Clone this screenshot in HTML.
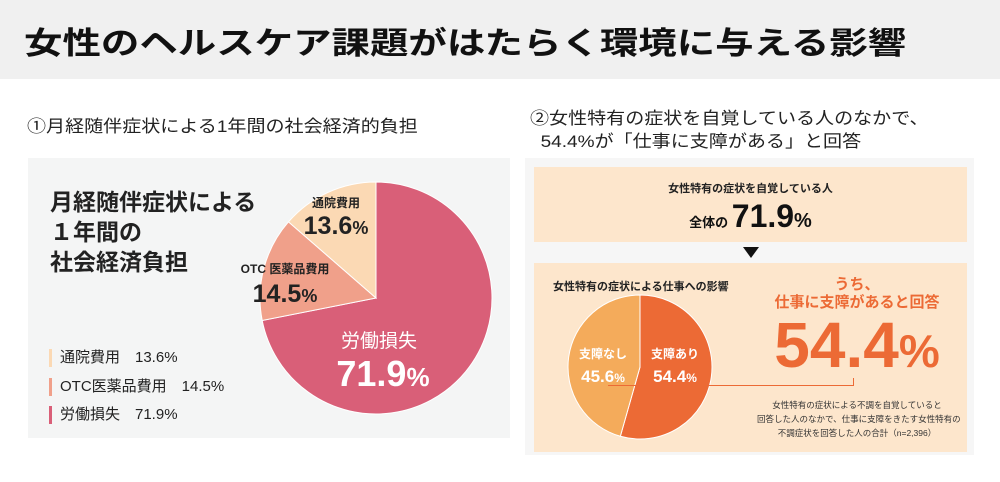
<!DOCTYPE html>
<html><head><meta charset="utf-8">
<style>
body{margin:0;width:1000px;height:482px;background:#fff;overflow:hidden;font-family:"Liberation Sans","Noto Sans CJK JP",sans-serif;position:relative}
.a{position:absolute;white-space:nowrap}
</style></head>
<body>
<div class="a" style="left:0;top:0;width:1000px;height:79px;background:#f0f0f0"></div>
<div class="a" style="left:24px;top:26px;font-size:31px;font-weight:bold;color:#111;transform:scaleX(1.24);transform-origin:left;line-height:36px">女性のヘルスケア課題がはたらく環境に与える影響</div>
<div class="a" style="left:27px;top:117px;font-size:17px;color:#222;transform:scaleX(1.12);transform-origin:left;line-height:20px">①月経随伴症状による1年間の社会経済的負担</div>
<div class="a" style="left:530px;top:107px;font-size:17px;color:#222;transform:scaleX(1.12);transform-origin:left;line-height:23px">②女性特有の症状を自覚している人のなかで、<br>&nbsp;&nbsp;54.4%が「仕事に支障がある」と回答</div>

<div class="a" style="left:28px;top:158px;width:482px;height:280px;background:#f4f5f5"></div>
<div class="a" style="left:50px;top:187px;font-size:23px;font-weight:bold;color:#222;line-height:30px">月経随伴症状による<br>１年間の<br>社会経済負担</div>

<svg class="a" style="left:0;top:0" width="1000" height="482">
<g id="pie1"></g><g id="pie2"></g>
</svg>

<div class="a" style="left:296px;top:194px;width:80px;text-align:center;font-size:12px;font-weight:bold;color:#222">通院費用</div>
<div class="a" style="left:286px;top:212px;width:100px;text-align:center;font-size:25px;font-weight:bold;color:#222">13.6<span style="font-size:18px">%</span></div>
<div class="a" style="left:225px;top:260px;width:120px;text-align:center;font-size:12px;font-weight:bold;color:#222">OTC 医薬品費用</div>
<div class="a" style="left:235px;top:280px;width:100px;text-align:center;font-size:25px;font-weight:bold;color:#222">14.5<span style="font-size:18px">%</span></div>
<div class="a" style="left:329px;top:326px;width:100px;text-align:center;font-size:19px;color:#fff">労働損失</div>
<div class="a" style="left:313px;top:353px;width:140px;text-align:center;font-size:36px;font-weight:bold;color:#fff">71.9<span style="font-size:26px">%</span></div>

<div class="a" style="left:49px;top:349px;height:18px;border-left:3px solid #fbd9b4;padding-left:8px;font-size:15px;color:#222;line-height:18px">通院費用　13.6%</div>
<div class="a" style="left:49px;top:378px;height:18px;border-left:3px solid #f0a08a;padding-left:8px;font-size:15px;color:#222;line-height:18px">OTC医薬品費用　14.5%</div>
<div class="a" style="left:49px;top:406px;height:18px;border-left:3px solid #d95f78;padding-left:8px;font-size:15px;color:#222;line-height:18px">労働損失　71.9%</div>

<div class="a" style="left:525px;top:158px;width:449px;height:297px;background:#f6f6f6;z-index:-1"></div>
<div class="a" style="left:534px;top:167px;width:433px;height:75px;background:#fde6cc;z-index:-1"></div>
<div class="a" style="left:534px;top:180px;width:433px;text-align:center;font-size:11px;font-weight:bold;color:#222">女性特有の症状を自覚している人</div>
<div class="a" style="left:534px;top:198px;width:433px;text-align:center;font-weight:bold;color:#111"><span style="font-size:13px">全体の </span><span style="font-size:32px">71.9</span><span style="font-size:20px">%</span></div>
<div class="a" style="left:743px;top:247px;width:0;height:0;border-left:8px solid transparent;border-right:8px solid transparent;border-top:11px solid #111"></div>
<div class="a" style="left:534px;top:263px;width:433px;height:189px;background:#fde6cc;z-index:-1"></div>
<div class="a" style="left:553px;top:278px;font-size:11px;font-weight:bold;color:#222">女性特有の症状による仕事への影響</div>
<div class="a" style="left:563px;top:345px;width:80px;text-align:center;font-size:12px;font-weight:bold;color:#fff">支障なし</div>
<div class="a" style="left:563px;top:367px;width:80px;text-align:center;font-size:17px;font-weight:bold;color:#fff">45.6<span style="font-size:12px">%</span></div>
<div class="a" style="left:635px;top:345px;width:80px;text-align:center;font-size:12px;font-weight:bold;color:#fff">支障あり</div>
<div class="a" style="left:635px;top:367px;width:80px;text-align:center;font-size:17px;font-weight:bold;color:#fff">54.4<span style="font-size:12px">%</span></div>
<div class="a" style="left:757px;top:276px;width:200px;text-align:center;font-size:15px;font-weight:bold;color:#ec6a35;line-height:18px">うち、<br>仕事に支障があると回答</div>
<div class="a" style="left:757px;top:310px;width:200px;text-align:center;font-size:64px;font-weight:bold;color:#ec6a35;line-height:70px">54.4<span style="font-size:46px">%</span></div>
<div class="a" style="left:608px;top:378px;width:245px;height:7px;border-right:1px solid #ec6a35;border-bottom:1px solid #ec6a35"></div>
<div class="a" style="left:757px;top:398px;width:200px;text-align:center;font-size:8.5px;color:#333;line-height:14px">女性特有の症状による不調を自覚していると<br>回答した人のなかで、仕事に支障をきたす女性特有の<br>不調症状を回答した人の合計（n=2,396）</div>

<script>
const pie1Labels=["労働損失","OTC医薬品費用","通院費用"];
const pie1Values=[71.9,14.5,13.6];
const pie1Colors=["#d95f78","#f0a08a","#fbd9b4"];
const pie2Labels=["支障あり","支障なし"];
const pie2Values=[54.4,45.6];
const pie2Colors=["#ec6a35","#f4ab5b"];
function drawPie(g,vals,cols,names,cx,cy,r){
  const tot=vals.reduce((a,b)=>a+b,0);let a0=-Math.PI/2;
  vals.forEach((v,i)=>{
    const a1=a0+v/tot*2*Math.PI;
    const x0=cx+r*Math.cos(a0),y0=cy+r*Math.sin(a0),x1=cx+r*Math.cos(a1),y1=cy+r*Math.sin(a1);
    const p=document.createElementNS("http://www.w3.org/2000/svg","path");
    p.setAttribute("d",`M${cx},${cy}L${x0},${y0}A${r},${r} 0 ${a1-a0>Math.PI?1:0} 1 ${x1},${y1}Z`);
    p.setAttribute("fill",cols[i]);p.setAttribute("stroke","#fff");p.setAttribute("stroke-width","1");
    
    
    g.appendChild(p);a0=a1;
  });
}
drawPie(document.getElementById("pie1"),pie1Values,pie1Colors,pie1Labels,376,298,116);
drawPie(document.getElementById("pie2"),pie2Values,pie2Colors,pie2Labels,640,367,72);
</script>
</body></html>
